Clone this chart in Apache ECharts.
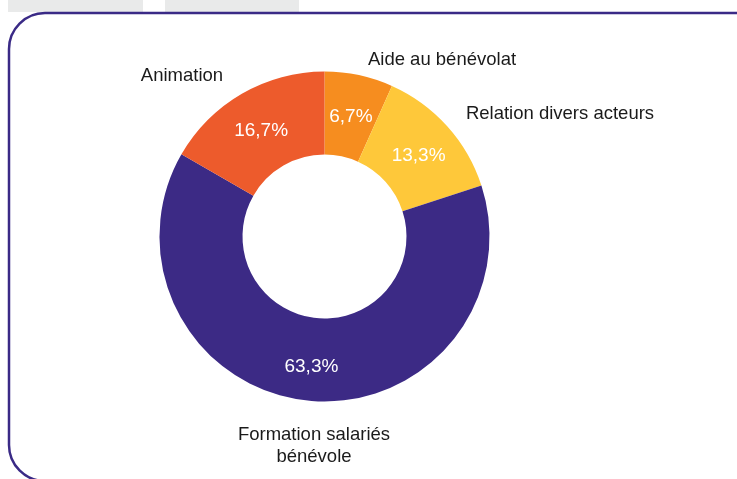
<!DOCTYPE html>
<html><head><meta charset="utf-8">
<script src="https://cdn.jsdelivr.net/npm/echarts@6/dist/echarts.min.js"></script>
<style>html,body{margin:0;padding:0;background:#fff}#c{width:737px;height:479px}</style>
</head><body><div id="c"></div>
<script>
const categories = ['Aide au bénévolat', 'Relation divers acteurs', 'Formation salariés\nbénévole', 'Animation'];
const values = [6.7, 13.3, 63.3, 16.7];
const colors = ['#f68d1f', '#fec83a', '#3c2a85', '#ed5b2c'];

const chart = echarts.init(document.getElementById('c'));
const data = categories.map((n, i) => ({ name: n, value: values[i], itemStyle: { color: colors[i] } }));
const labelPos = [[442, 60], [560, 114], [314, 446], [182, 76]];
const C = [324.5, 236.5], R = [82, 165];
chart.setOption({
  animation: false,
  graphic: [
    { type: 'rect', shape: { x: 8, y: 0, width: 135, height: 12 }, style: { fill: '#e9eaea' } },
    { type: 'rect', shape: { x: 165, y: 0, width: 134, height: 12 }, style: { fill: '#e9eaea' } },
    { type: 'rect', shape: { x: 9, y: 13, width: 800, height: 468, r: 36 }, style: { fill: 'none', stroke: '#3a2a86', lineWidth: 2.5 } }
  ],
  series: [
    {
      type: 'pie', center: C, radius: R, startAngle: 90, clockwise: true,
      data: data, silent: true,
      label: { show: true, position: 'inside', color: '#fff', fontFamily: 'Liberation Sans, Arial', fontSize: 19,
        formatter: p => String(p.value).replace('.', ',') + '%' },
      labelLine: { show: false },
      labelLayout: { dy: 4 }
    },
    {
      type: 'pie', center: C, radius: R, startAngle: 90, clockwise: true,
      data: categories.map((n, i) => ({ name: n, value: values[i] })), silent: true,
      itemStyle: { color: 'rgba(0,0,0,0)' },
      label: { show: true, position: 'outside', color: '#1a1a1a', fontFamily: 'Liberation Sans, Arial', fontSize: 18.5, lineHeight: 22, align: 'center',
        formatter: '{b}' },
      labelLine: { show: false, length: 8, length2: 0 },
      labelLayout: function (p) {
        const i = p.dataIndex;
        return { x: labelPos[i][0], y: labelPos[i][1], align: 'center', verticalAlign: 'middle' };
      }
    }
  ]
});
</script></body></html>
